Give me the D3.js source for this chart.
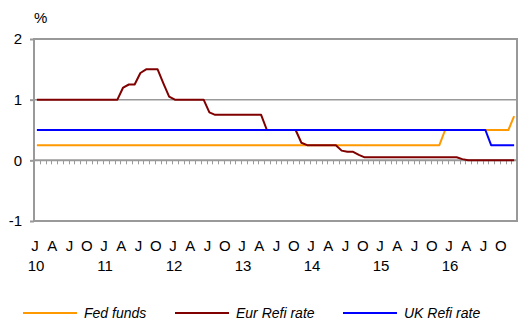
<!DOCTYPE html>
<html><head><meta charset="utf-8">
<script src="https://cdn.jsdelivr.net/npm/d3@7"></script>
<style>body{margin:0;background:#fff}svg{display:block;font-family:"Liberation Sans",Arial,sans-serif}</style>
</head><body><svg id="c" width="521" height="322"></svg>
<script>
// Monthly averages, Jan 2010 .. Dec 2016
const years = ["10","11","12","13","14","15","16"];
const quarterLetters = ["J","A","J","O"];
const yTicks = [-1, 0, 1, 2];
const fedFunds = [
  0.25,0.25,0.25,0.25,0.25,0.25,0.25,0.25,0.25,0.25,0.25,0.25,
  0.25,0.25,0.25,0.25,0.25,0.25,0.25,0.25,0.25,0.25,0.25,0.25,
  0.25,0.25,0.25,0.25,0.25,0.25,0.25,0.25,0.25,0.25,0.25,0.25,
  0.25,0.25,0.25,0.25,0.25,0.25,0.25,0.25,0.25,0.25,0.25,0.25,
  0.25,0.25,0.25,0.25,0.25,0.25,0.25,0.25,0.25,0.25,0.25,0.25,
  0.25,0.25,0.25,0.25,0.25,0.25,0.25,0.25,0.25,0.25,0.25,0.5,
  0.5,0.5,0.5,0.5,0.5,0.5,0.5,0.5,0.5,0.5,0.5,0.73
];
const eurRefi = [
  1,1,1,1,1,1,1,1,1,1,1,1,
  1,1,1,1.2,1.25,1.25,1.44,1.5,1.5,1.5,1.27,1.05,
  1,1,1,1,1,1,0.79,0.75,0.75,0.75,0.75,0.75,
  0.75,0.75,0.75,0.75,0.5,0.5,0.5,0.5,0.5,0.5,0.29,0.25,
  0.25,0.25,0.25,0.25,0.25,0.16,0.14,0.14,0.09,0.05,0.05,0.05,
  0.05,0.05,0.05,0.05,0.05,0.05,0.05,0.05,0.05,0.05,0.05,0.05,
  0.05,0.05,0.02,0,0,0,0,0,0,0,0,0
];
const ukRefi = [
  0.5,0.5,0.5,0.5,0.5,0.5,0.5,0.5,0.5,0.5,0.5,0.5,
  0.5,0.5,0.5,0.5,0.5,0.5,0.5,0.5,0.5,0.5,0.5,0.5,
  0.5,0.5,0.5,0.5,0.5,0.5,0.5,0.5,0.5,0.5,0.5,0.5,
  0.5,0.5,0.5,0.5,0.5,0.5,0.5,0.5,0.5,0.5,0.5,0.5,
  0.5,0.5,0.5,0.5,0.5,0.5,0.5,0.5,0.5,0.5,0.5,0.5,
  0.5,0.5,0.5,0.5,0.5,0.5,0.5,0.5,0.5,0.5,0.5,0.5,
  0.5,0.5,0.5,0.5,0.5,0.5,0.5,0.25,0.25,0.25,0.25,0.25
];
const seriesNames = ["Fed funds","Eur Refi rate","UK Refi rate"];
const seriesColors = ["#ff9900","#800000","#0000ff"];
const seriesData = [fedFunds, eurRefi, ukRefi];

const svg = d3.select("#c");
const L = 34, R = 517, T = 39, B = 221;
const nMonths = years.length * 12;
const x = d3.scaleLinear().domain([0, nMonths]).range([L, R]);
const y = d3.scaleLinear().domain([-1, 2]).range([B, T]);
const grey = "#999";

// gridline at 1
svg.append("line").attr("x1", L).attr("x2", R).attr("y1", y(1)).attr("y2", y(1))
  .attr("stroke", grey).attr("stroke-width", 1.5);

// zero line with monthly ticks
svg.append("line").attr("x1", L).attr("x2", R).attr("y1", y(0)).attr("y2", y(0))
  .attr("stroke", grey).attr("stroke-width", 2);
svg.append("g").selectAll("line").data(d3.range(1, nMonths)).join("line")
  .attr("x1", d => Math.round(x(d)) + 0.5).attr("x2", d => Math.round(x(d)) + 0.5)
  .attr("y1", y(0)).attr("y2", y(0) + 4)
  .attr("stroke", grey).attr("stroke-width", 1);

// lines
const line = d3.line().x((d, i) => x(i + 0.5)).y(d => y(d));
seriesData.forEach((s, k) => {
  svg.append("path").attr("d", line(s)).attr("fill", "none")
    .attr("stroke", seriesColors[k]).attr("stroke-width", 2).attr("stroke-linejoin", "round");
});

// frame
svg.append("rect").attr("x", L).attr("y", T).attr("width", R - L).attr("height", B - T)
  .attr("fill", "none").attr("stroke", grey).attr("stroke-width", 2);

// y axis
const yAxis = svg.append("g").attr("transform", `translate(${L},0)`)
  .call(d3.axisLeft(y).tickValues(yTicks).tickSize(4).tickPadding(8).tickFormat(d => String(d)));
yAxis.select(".domain").remove();
yAxis.selectAll("line").attr("stroke", grey).attr("stroke-width", 2);
yAxis.selectAll("text").attr("font-size", 15).attr("fill", "#000")
  .attr("font-family", "Liberation Sans, Arial, sans-serif");
svg.append("text").attr("x", 34).attr("y", 23).attr("font-size", 15).text("%");

// x labels
const quarters = d3.range(0, nMonths, 3);
svg.append("g").selectAll("text").data(quarters).join("text")
  .attr("x", d => x(d) + 1).attr("y", 251).attr("text-anchor", "middle")
  .attr("font-size", 15).text(d => quarterLetters[(d % 12) / 3]);
svg.append("g").selectAll("text").data(years).join("text")
  .attr("x", (d, i) => x(i * 12) + 2).attr("y", 271).attr("text-anchor", "middle")
  .attr("font-size", 15).text(d => d);

// legend
const legX = [23, 175, 343];
const lg = svg.append("g").selectAll("g").data(seriesNames).join("g")
  .attr("transform", (d, i) => `translate(${legX[i]},313)`);
lg.append("line").attr("x1", 0).attr("x2", 54).attr("stroke", (d, i) => seriesColors[i]).attr("stroke-width", 2);
lg.append("text").attr("x", 61).attr("y", 5).attr("font-size", 14).attr("font-style", "italic").text(d => d);
</script></body></html>
